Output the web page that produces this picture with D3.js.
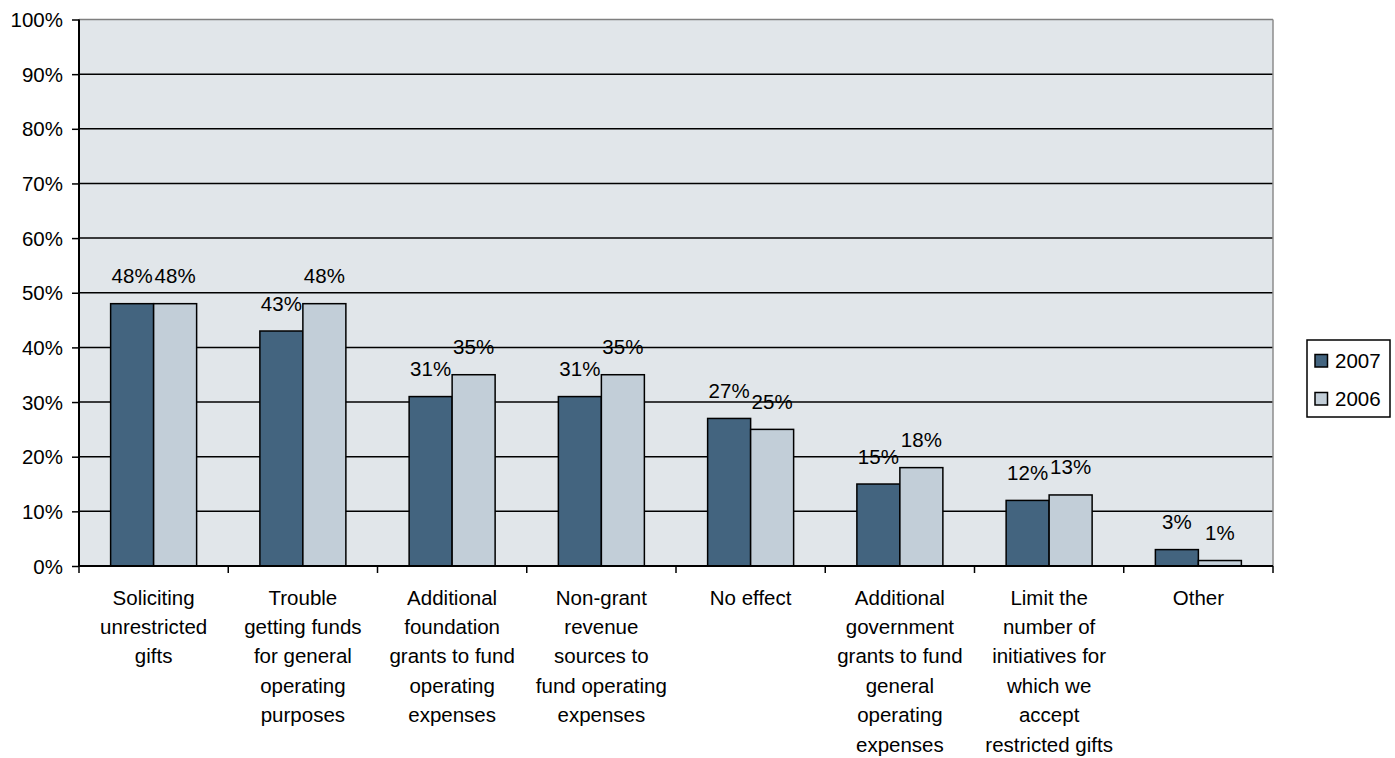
<!DOCTYPE html>
<html>
<head>
<meta charset="utf-8">
<script src="https://cdn.jsdelivr.net/npm/d3@7"></script>
<style>
  body { margin: 0; background: #fff; }
  svg text { font-family: "Liberation Sans", Arial, sans-serif; fill: #000; }
</style>
</head>
<body>
<svg id="chart" width="1395" height="758"></svg>
<script>
// Effects on fundraising, share of respondents
const categories = [
  ["Soliciting", "unrestricted", "gifts"],
  ["Trouble", "getting funds", "for general", "operating", "purposes"],
  ["Additional", "foundation", "grants to fund", "operating", "expenses"],
  ["Non-grant", "revenue", "sources to", "fund operating", "expenses"],
  ["No effect"],
  ["Additional", "government", "grants to fund", "general", "operating", "expenses"],
  ["Limit the", "number of", "initiatives for", "which we", "accept", "restricted gifts"],
  ["Other"]
];
const seriesNames = ["2007", "2006"];
const values2007 = [48, 43, 31, 31, 27, 15, 12, 3];
const values2006 = [48, 48, 35, 35, 25, 18, 13, 1];
const yTicks = [0, 10, 20, 30, 40, 50, 60, 70, 80, 90, 100];
const colors = ["#43647f", "#c2ced8"];

const svg = d3.select("#chart");
const plotL = 79, plotR = 1273, plotT = 19.5, plotB = 566;
const fs = 20.5;

const keys = categories.map((c, i) => "c" + i);
const x0 = d3.scaleBand().domain(keys).range([plotL, plotR])
  .paddingInner(0.4238).paddingOuter(0.2119);
const x1 = d3.scaleBand().domain(seriesNames).range([0, x0.bandwidth()]);
const y = d3.scaleLinear().domain([0, 100]).range([plotB, plotT]);

// plot background
svg.append("rect").attr("x", plotL).attr("y", plotT)
  .attr("width", plotR - plotL).attr("height", plotB - plotT)
  .attr("fill", "#e1e6ea");

// horizontal gridlines
svg.append("g").selectAll("line").data(yTicks.filter(t => t > 0 && t < 100)).join("line")
  .attr("x1", plotL).attr("x2", plotR)
  .attr("y1", d => y(d)).attr("y2", d => y(d))
  .attr("stroke", "#000").attr("stroke-width", 1.5);

// top and right frame
svg.append("line").attr("x1", plotL).attr("x2", plotR).attr("y1", y(100)).attr("y2", y(100))
  .attr("stroke", "#7f7f7f").attr("stroke-width", 1.5);
svg.append("line").attr("x1", plotR).attr("x2", plotR).attr("y1", y(100)).attr("y2", plotB)
  .attr("stroke", "#8c8c8c").attr("stroke-width", 1.5);

// bars
const rows = seriesNames.map((s, si) => ({ s, si, vals: si === 0 ? values2007 : values2006 }));
const bars = [];
rows.forEach(r => r.vals.forEach((v, i) => bars.push({ s: r.s, si: r.si, v, key: keys[i] })));

svg.append("g").selectAll("rect").data(bars).join("rect")
  .attr("x", d => x0(d.key) + x1(d.s))
  .attr("y", d => y(d.v))
  .attr("width", x1.bandwidth())
  .attr("height", d => plotB - y(d.v))
  .attr("fill", d => colors[d.si])
  .attr("stroke", "#000").attr("stroke-width", 1.5);

// value labels
svg.append("g").selectAll("text").data(bars).join("text")
  .attr("x", d => x0(d.key) + x1(d.s) + x1.bandwidth() / 2)
  .attr("y", d => y(d.v) - 20.5)
  .attr("text-anchor", "middle")
  .attr("font-size", fs)
  .text(d => d.v + "%");

// y axis
const yAxis = d3.axisLeft(y).tickValues(yTicks).tickFormat(d => d + "%")
  .tickSize(7).tickPadding(9);
const gy = svg.append("g").attr("transform", `translate(${plotL},0)`).call(yAxis);
gy.select(".domain").attr("stroke", "#000").attr("stroke-width", 2).attr("d", `M0,${plotT}V${plotB}`);
gy.selectAll(".tick line").attr("stroke", "#000").attr("stroke-width", 1.5);
gy.selectAll(".tick text").attr("font-size", fs).attr("font-family", "Liberation Sans, Arial, sans-serif")
  .attr("fill", "#000").attr("dy", "0.35em");

// x axis with ticks on category boundaries
const step = x0.step();
const edges = d3.range(keys.length + 1).map(i => plotL + i * step);
svg.append("line").attr("x1", plotL).attr("x2", plotR).attr("y1", plotB).attr("y2", plotB)
  .attr("stroke", "#000").attr("stroke-width", 2);
svg.append("g").selectAll("line").data(edges).join("line")
  .attr("x1", d => d).attr("x2", d => d).attr("y1", plotB).attr("y2", plotB + 7)
  .attr("stroke", "#000").attr("stroke-width", 1.5);

// category labels
const lab = svg.append("g").selectAll("text").data(categories).join("text")
  .attr("text-anchor", "middle").attr("font-size", fs)
  .attr("transform", (d, i) => `translate(${x0(keys[i]) + x0.bandwidth() / 2},604.5)`);
lab.selectAll("tspan").data(d => d).join("tspan")
  .attr("x", 0).attr("y", (d, i) => i * 29.4).text(d => d);

// legend
const lg = svg.append("g");
lg.append("rect").attr("x", 1307).attr("y", 340).attr("width", 83).attr("height", 77)
  .attr("fill", "#fff").attr("stroke", "#000").attr("stroke-width", 1.5);
seriesNames.forEach((s, i) => {
  const yy = 354.5 + i * 38;
  lg.append("rect").attr("x", 1315).attr("y", yy).attr("width", 12.5).attr("height", 12.5)
    .attr("fill", colors[i]).attr("stroke", "#000").attr("stroke-width", 1.5);
  lg.append("text").attr("x", 1335).attr("y", yy + 13).attr("font-size", fs).text(s);
});
</script>
</body>
</html>
